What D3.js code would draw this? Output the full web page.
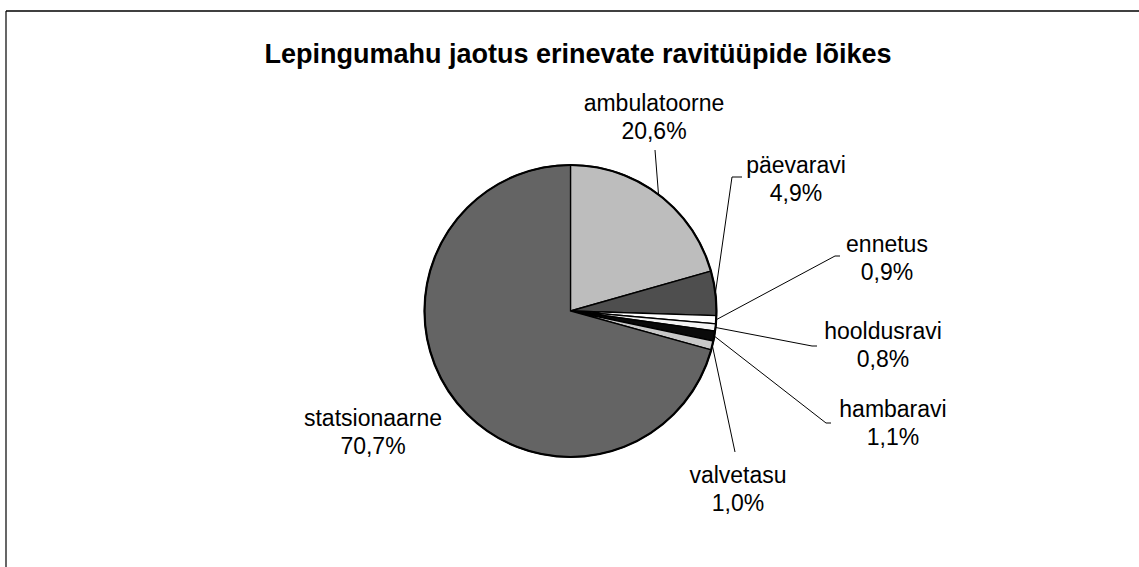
<!DOCTYPE html>
<html>
<head>
<meta charset="utf-8">
<script src="https://cdn.jsdelivr.net/npm/d3@7"></script>
<style>
  body { margin: 0; background: #fff; }
  text { font-family: "Liberation Sans", Arial, sans-serif; fill: #000; }
</style>
</head>
<body>
<div id="chart"></div>
<script>
// data (clockwise from 12 o'clock)
var categories = ["ambulatoorne", "päevaravi", "ennetus", "hooldusravi", "hambaravi", "valvetasu", "statsionaarne"]
var shares = [20.6, 4.9, 0.9, 0.8, 1.1, 1.0, 70.7]
var shareLabels = ["20,6%", "4,9%", "0,9%", "0,8%", "1,1%", "1,0%", "70,7%"]

var width = 1139,
    height = 567

// pie geometry
var cx = 570.5,
    cy = 311,
    radius = 146

// fill for each slice (grey tones of the scanned original)
var color = d3.scaleOrdinal()
  .domain(categories)
  .range(["#bdbdbd", "#4e4e4e", "#ffffff", "#f4f4f4", "#0a0a0a", "#c8c8c8", "#646464"])

// label placement: centre x, first baseline y, leader end (null = no leader), elbow length
var labelLayout = {
  "ambulatoorne":  { x: 654, y: 111, end: [655, 150], elbow: 0 },
  "päevaravi":     { x: 796, y: 173, end: [732, 177], elbow: 10 },
  "ennetus":       { x: 887, y: 252, end: [835, 256], elbow: 5 },
  "hooldusravi":   { x: 883, y: 339, end: [812, 346], elbow: 5 },
  "hambaravi":     { x: 893, y: 417, end: [826, 423], elbow: 5 },
  "valvetasu":     { x: 738, y: 483, end: [735, 452], elbow: 0 },
  "statsionaarne": { x: 373, y: 426, end: null, elbow: 0 }
}
var lineHeight = 28

var svg = d3.select("#chart")
  .append("svg")
    .attr("width", width)
    .attr("height", height)

// frame: top and left edges only, as in the scan
svg.append("line")
  .attr("x1", 6).attr("x2", width).attr("y1", 11).attr("y2", 11)
  .attr("stroke", "#000").attr("stroke-width", 1.5)
svg.append("line")
  .attr("x1", 6).attr("x2", 6).attr("y1", 11).attr("y2", height)
  .attr("stroke", "#000").attr("stroke-width", 1.2)

// title
svg.append("text")
  .attr("x", 578)
  .attr("y", 63)
  .attr("text-anchor", "middle")
  .style("font-size", "27px")
  .style("font-weight", "bold")
  .text("Lepingumahu jaotus erinevate ravitüüpide lõikes")

var data = categories.map(function(c, i) { return { key: c, value: shares[i], label: shareLabels[i] } })

var pie = d3.pie()
  .sort(null)
  .value(function(d) { return d.value })

var data_ready = pie(data)

var arc = d3.arc()
  .innerRadius(0)
  .outerRadius(radius)

var g = svg.append("g")
  .attr("transform", "translate(" + cx + "," + cy + ")")

g.selectAll("path")
  .data(data_ready)
  .enter()
  .append("path")
    .attr("d", arc)
    .attr("fill", function(d) { return color(d.data.key) })
    .attr("stroke", "#000")
    .style("stroke-width", "1.3px")

// thicker outline round the whole pie
g.append("circle")
  .attr("r", radius)
  .attr("fill", "none")
  .attr("stroke", "#000")
  .style("stroke-width", "2.2px")

// leader lines from the middle of each slice's outer edge
svg.selectAll("polyline.leader")
  .data(data_ready.filter(function(d) { return labelLayout[d.data.key].end }))
  .enter()
  .append("polyline")
    .attr("class", "leader")
    .attr("fill", "none")
    .attr("stroke", "#000")
    .attr("stroke-width", 1)
    .attr("points", function(d) {
      var L = labelLayout[d.data.key]
      var a = (d.startAngle + d.endAngle) / 2
      var sx = cx + radius * Math.sin(a),
          sy = cy - radius * Math.cos(a)
      var pts = [[sx, sy], L.end]
      if (L.elbow) pts.push([L.end[0] + L.elbow, L.end[1]])
      return pts.map(function(p) { return p.join(",") }).join(" ")
    })

// labels: name and share on two lines
var labels = svg.selectAll("text.lbl")
  .data(data_ready)
  .enter()
  .append("text")
    .attr("class", "lbl")
    .attr("text-anchor", "middle")
    .style("font-size", "23px")

labels.append("tspan")
  .attr("x", function(d) { return labelLayout[d.data.key].x })
  .attr("y", function(d) { return labelLayout[d.data.key].y })
  .text(function(d) { return d.data.key })

labels.append("tspan")
  .attr("x", function(d) { return labelLayout[d.data.key].x })
  .attr("y", function(d) { return labelLayout[d.data.key].y + lineHeight })
  .text(function(d) { return d.data.label })
</script>
</body>
</html>
